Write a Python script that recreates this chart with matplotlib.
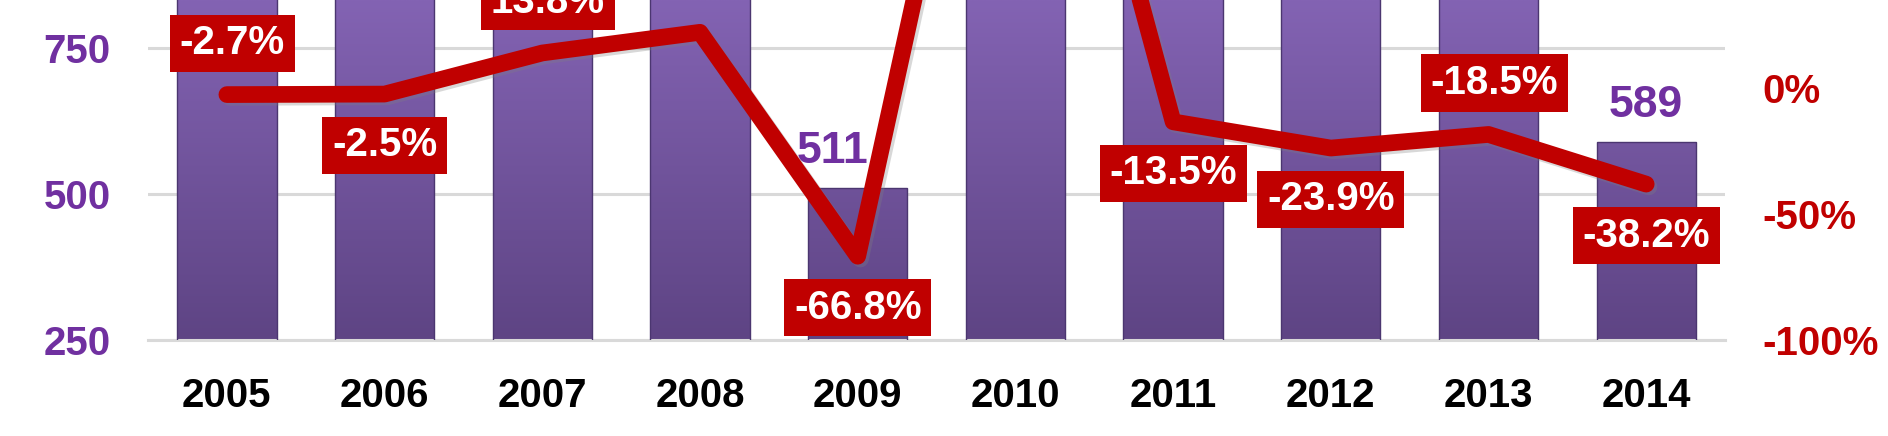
import numpy as np
import matplotlib.pyplot as plt
from matplotlib.colors import LinearSegmentedColormap
import matplotlib.patheffects as pe

# data (bars above the frame are cut off in the reference)
years = ['2005', '2006', '2007', '2008', '2009', '2010', '2011', '2012', '2013', '2014']
totals = [1137, 1108, 1261, 1539, 511, 1625, 1406, 1070, 900, 589]
growth = [-2.7, -2.5, 13.8, 22.0, -66.8, 218.0, -13.5, -23.9, -18.5, -38.2]
growth_labels = ['-2.7%', '-2.5%', '13.8%', '22.0%', '-66.8%', '218.0%',
                 '-13.5%', '-23.9%', '-18.5%', '-38.2%']
label_side = [1, -1, 1, 2, -1, 1, -1, -1, 1, -1]  # >0 above the line, <0 below

PURPLE = '#7030A0'
RED = '#C00000'
plt.rcParams['font.family'] = ['Liberation Sans', 'DejaVu Sans']
plt.rcParams['font.weight'] = 'bold'

fig = plt.figure(figsize=(18.88, 4.36), dpi=100)
ax = fig.add_axes([0.0784, 0.2202, 0.8353, 0.7798])
ax2 = ax.twinx()

x = np.arange(len(years))
y_lo, y_hi = 250, 832
bars = ax.bar(x, totals, width=0.63, color='none', edgecolor='#4B3670', linewidth=1.0, zorder=3)

# vertical purple gradient clipped to each bar
cmap = LinearSegmentedColormap.from_list('bar', ['#5E4484', '#8363B3'])
grad = np.linspace(0, 1, 256).reshape(-1, 1)
for b in bars:
    x0 = b.get_x()
    im = ax.imshow(grad, cmap=cmap, origin='lower', aspect='auto',
                   extent=(x0, x0 + b.get_width(), y_lo, y_hi), zorder=2)
    im.set_clip_path(b)

for i, v in enumerate(totals):
    if v < y_hi - 60:
        dx = -18 if i == 4 else 0  # 511 sits left of the steep line
        ax.annotate(str(v), (i, v), xytext=(dx, 26), textcoords='offset points',
                    ha='center', va='center', fontsize=32, color=PURPLE, fontweight='bold')

ax.set_xlim(-0.5, len(years) - 0.5)
ax.set_ylim(y_lo, y_hi)
ax.set_yticks([250, 500, 750])
ax.set_xticks(x)
ax.set_xticklabels(years)
ax.grid(axis='y', color='#D9D9D9', linewidth=2.2)
ax.set_axisbelow(True)
ax.tick_params(axis='y', length=0, pad=27, labelsize=29, labelcolor=PURPLE)
ax.tick_params(axis='x', length=0, pad=27, labelsize=29, labelcolor='black')
for s in ['top', 'left', 'right']:
    ax.spines[s].set_visible(False)
ax.spines['bottom'].set_color('#D9D9D9')
ax.spines['bottom'].set_linewidth(2.2)

# growth line on the right axis
ax2.plot(x, growth, color=RED, linewidth=12, solid_capstyle='round', solid_joinstyle='round',
         zorder=4, path_effects=[pe.SimpleLineShadow(offset=(2, -2), shadow_color='gray', alpha=0.3),
                                 pe.Normal()])
for i, (v, t, s) in enumerate(zip(growth, growth_labels, label_side)):
    ax2.annotate(t, (i, v), xytext=(4 if s > 0 else 0, 37 * s), textcoords='offset points',
                 ha='center', va='center', fontsize=29, color='white', fontweight='bold',
                 bbox=dict(boxstyle='square,pad=0.24', fc=RED, ec='none'), zorder=5)

ax2.set_ylim(-100, 34.8)
ax2.set_yticks([-100, -50, 0])
ax2.set_yticklabels(['-100%', '-50%', '0%'])
ax2.tick_params(axis='y', length=0, pad=27, labelsize=29, labelcolor=RED)
for s in ['top', 'left', 'right', 'bottom']:
    ax2.spines[s].set_visible(False)

fig.savefig('out.png', dpi=100)
